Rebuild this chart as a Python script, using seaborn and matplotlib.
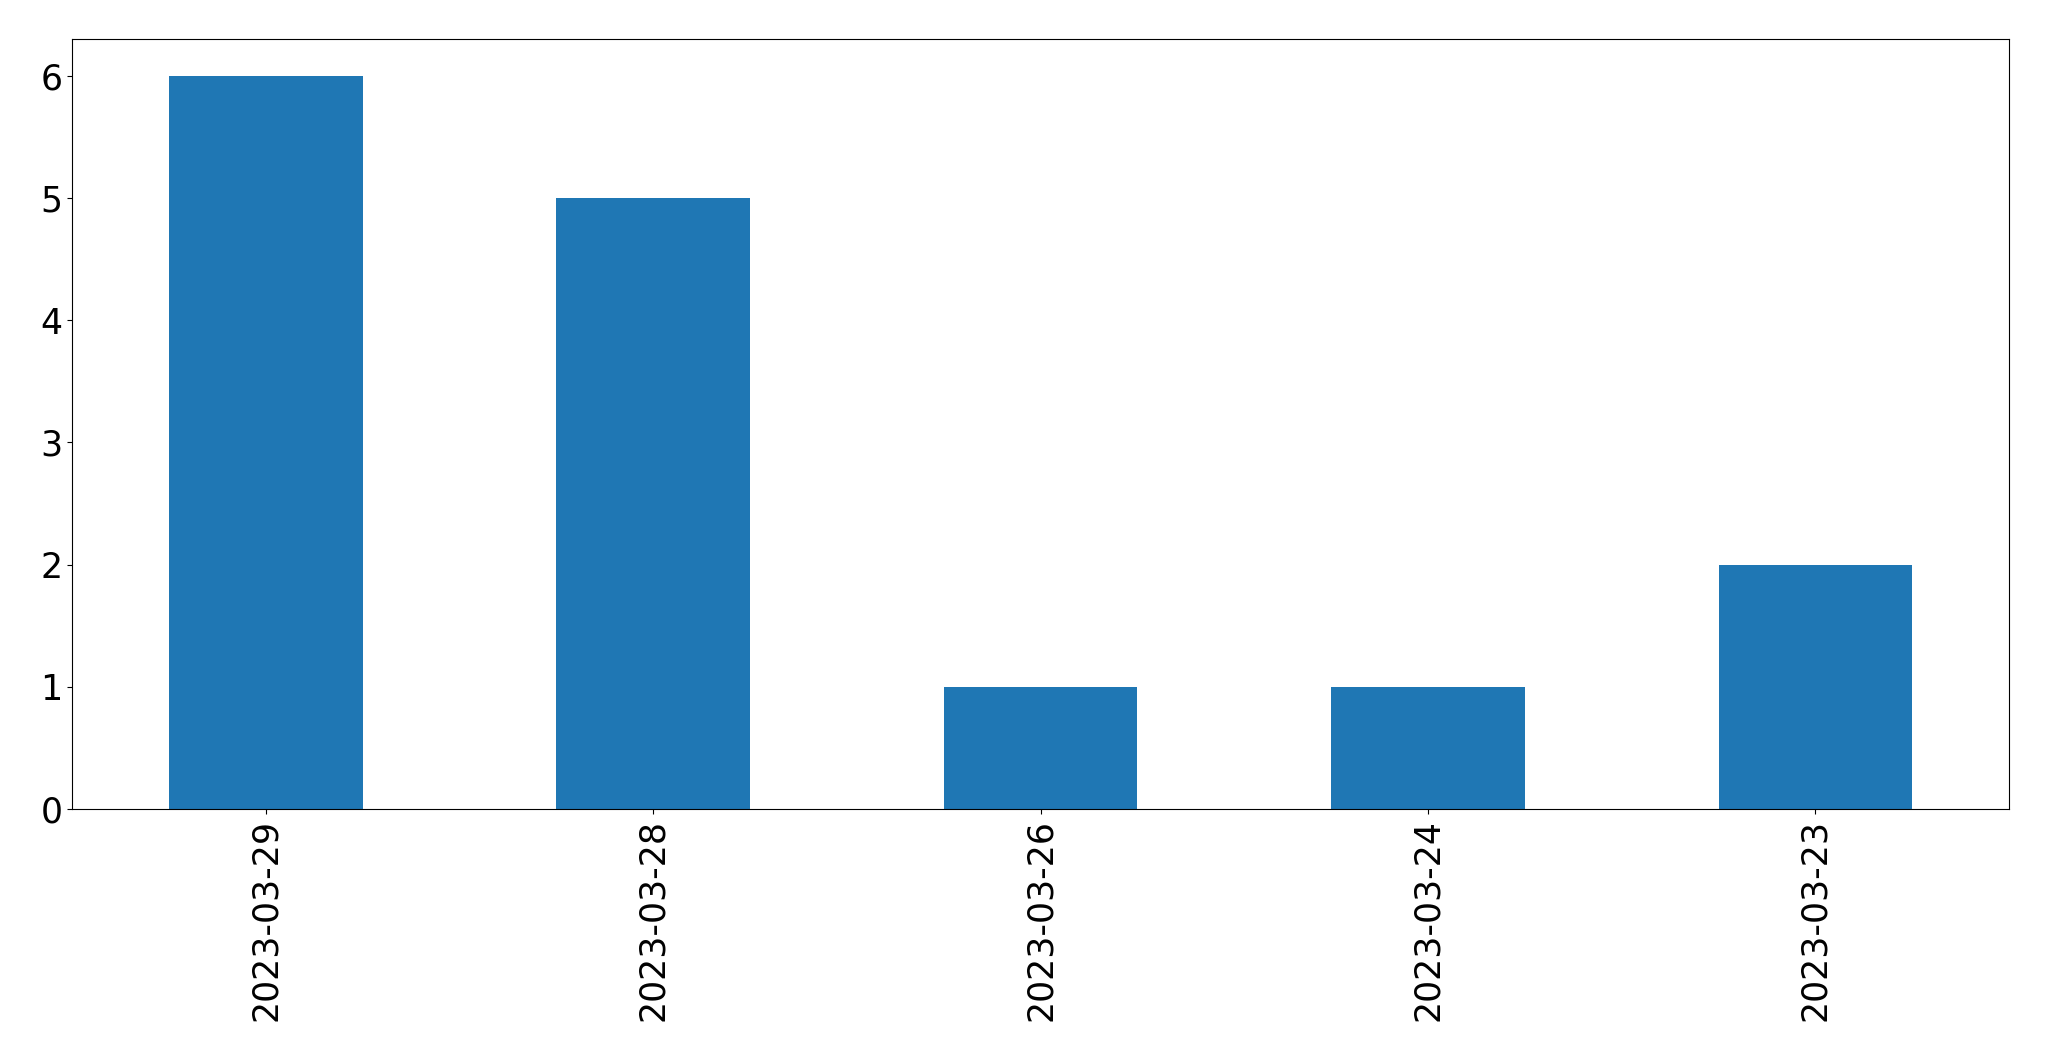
import matplotlib
matplotlib.use("Agg")
import matplotlib.pyplot as plt
import seaborn as sns
import pandas as pd

# counts per date, in the order shown
dates = ["2023-03-29", "2023-03-28", "2023-03-26", "2023-03-24", "2023-03-23"]
counts = [6, 5, 1, 1, 2]

df = pd.DataFrame({"date": dates, "count": counts})

fig = plt.figure(figsize=(20.49, 10.61), dpi=100)
ax = fig.add_axes([0.0352, 0.2375, 0.9453, 0.7258])

sns.barplot(data=df, x="date", y="count", order=dates, color="#1f77b4",
            saturation=1, width=0.5, ax=ax, errorbar=None)

ax.set_xlim(-0.5, len(dates) - 0.5)
ax.set_ylim(0, 6.3)
ax.set_xlabel("")
ax.set_ylabel("")
ax.tick_params(axis="both", labelsize=25)
plt.setp(ax.get_xticklabels(), rotation=90)
for s in ax.spines.values():
    s.set_visible(True)
    s.set_color("black")

fig.savefig("out.png", dpi=100)
